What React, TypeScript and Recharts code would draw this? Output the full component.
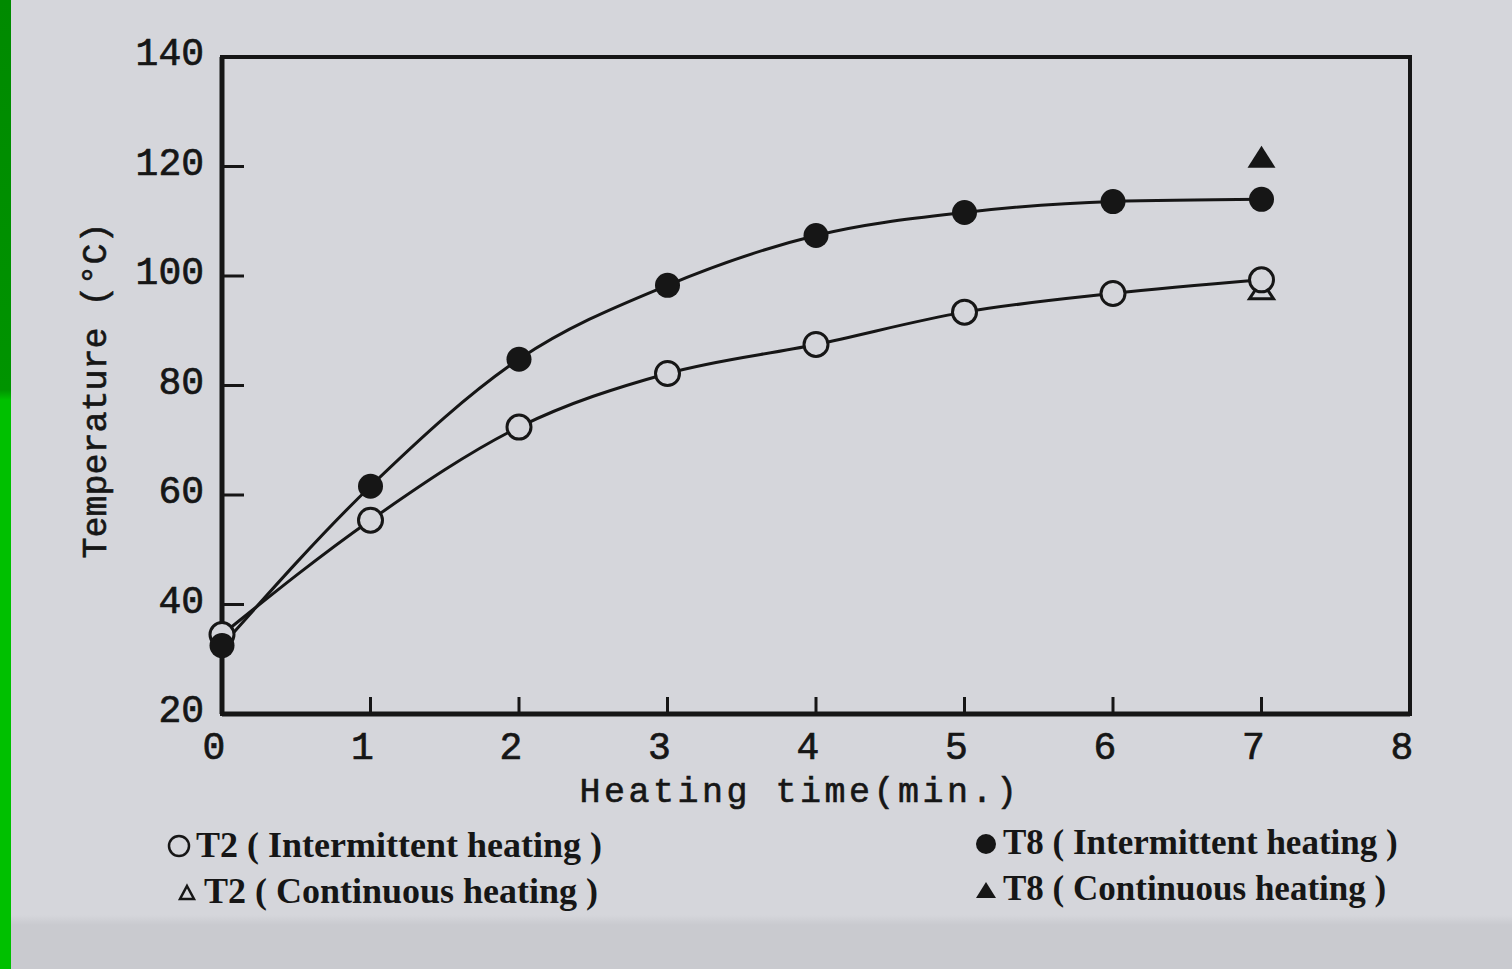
import {
  LineChart,
  Line,
  XAxis,
  YAxis,
  ReferenceArea,
  Legend,
  Label,
} from 'recharts'

// heating time (min.)
const times = [0, 1, 2, 3, 4, 5, 6, 7]
// temperatures (°C)
const t2Intermittent = [34.5, 55.4, 72.4, 82.2, 87.5, 93.4, 96.8, 99.3]
const t8Intermittent = [32.5, 61.6, 84.8, 98.3, 107.4, 111.6, 113.6, 114]
const t2Continuous = [null, null, null, null, null, null, null, 97.3]
const t8Continuous = [null, null, null, null, null, null, null, 121.6]

const xTicks = [0, 1, 2, 3, 4, 5, 6, 7, 8]
const yTicks = [20, 40, 60, 80, 100, 120, 140]

const legendItems = [
  { key: 't2i', symbol: 'circle', label: 'T2 ( Intermittent heating )' },
  { key: 't2c', symbol: 'triangle', label: 'T2 ( Continuous heating )' },
  { key: 't8i', symbol: 'dot', label: 'T8 ( Intermittent heating )' },
  { key: 't8c', symbol: 'solidTriangle', label: 'T8 ( Continuous heating )' },
]

const data = times.map((t, i) => ({
  time: t,
  t2i: t2Intermittent[i],
  t8i: t8Intermittent[i],
  t2c: t2Continuous[i],
  t8c: t8Continuous[i],
}))

const INK = '#161616'
const PAPER = '#d5d6db'
const MONO = '"Liberation Mono", "DejaVu Sans Mono", monospace'
const SERIF = '"Liberation Serif", "DejaVu Serif", serif'

const openDot = (props: any) => {
  const { cx, cy, index } = props
  if (cx == null || cy == null || props.value == null) return <g key={`o${index}`} />
  return <circle key={`o${index}`} cx={cx} cy={cy} r={12} fill={PAPER} stroke={INK} strokeWidth={3} />
}

const filledDot = (props: any) => {
  const { cx, cy, index } = props
  if (cx == null || cy == null || props.value == null) return <g key={`f${index}`} />
  return <circle key={`f${index}`} cx={cx} cy={cy} r={12.5} fill={INK} />
}

const openTriangle = (props: any) => {
  const { cx, cy, index } = props
  if (cx == null || cy == null || props.value == null) return <g key={`ot${index}`} />
  return (
    <path
      key={`ot${index}`}
      d={`M${cx},${cy - 10} L${cx + 12},${cy + 8} L${cx - 12},${cy + 8} Z`}
      fill={PAPER}
      stroke={INK}
      strokeWidth={3}
    />
  )
}

const filledTriangle = (props: any) => {
  const { cx, cy, index } = props
  if (cx == null || cy == null || props.value == null) return <g key={`ft${index}`} />
  return (
    <path
      key={`ft${index}`}
      d={`M${cx},${cy - 12} L${cx + 14},${cy + 10} L${cx - 14},${cy + 10} Z`}
      fill={INK}
    />
  )
}

const XTick = (props: any) => {
  const { x, y, payload } = props
  return (
    <g>
      <line x1={x} y1={y} x2={x} y2={y - 17} stroke={INK} strokeWidth={3} />
      <text
        x={x - 8}
        y={y + 45}
        textAnchor="middle"
        fontFamily={MONO}
        fontSize={38}
        fill={INK}
        stroke={INK}
        strokeWidth={0.7}
      >
        {payload.value}
      </text>
    </g>
  )
}

const YTick = (props: any) => {
  const { x, y, payload } = props
  return (
    <g>
      <line x1={x} y1={y} x2={x + 22} y2={y} stroke={INK} strokeWidth={3} />
      <text
        x={x - 18}
        y={y + 8}
        textAnchor="end"
        fontFamily={MONO}
        fontSize={38}
        fill={INK}
        stroke={INK}
        strokeWidth={0.7}
      >
        {payload.value}
      </text>
    </g>
  )
}

const XTitle = (props: any) => {
  const vb = props.viewBox
  return (
    <text
      x={vb.x + vb.width / 2 - 16}
      y={vb.y + 88}
      textAnchor="middle"
      fontFamily={MONO}
      fontSize={35}
      letterSpacing={3.5}
      fill={INK}
      stroke={INK}
      strokeWidth={0.6}
    >
      Heating time(min.)
    </text>
  )
}

const YTitle = (props: any) => {
  const vb = props.viewBox
  const cx = vb.x + 5
  const cy = vb.y + vb.height / 2 + 5
  return (
    <text
      x={cx}
      y={cy}
      transform={`rotate(-90 ${cx} ${cy})`}
      textAnchor="middle"
      dominantBaseline="central"
      fontFamily={MONO}
      fontSize={35}
      fill={INK}
      stroke={INK}
      strokeWidth={0.6}
    >
      Temperature (°C)
    </text>
  )
}

function LegendSymbol({ kind }: { kind: string }) {
  return (
    <svg width={26} height={26} style={{ marginRight: 4 }}>
      {kind === 'circle' && <circle cx={13} cy={14} r={10} fill="none" stroke={INK} strokeWidth={2.5} />}
      {kind === 'dot' && <circle cx={13} cy={14} r={10} fill={INK} />}
      {kind === 'triangle' && (
        <path d="M13,8 L20,21 L6,21 Z" fill="none" stroke={INK} strokeWidth={2.5} />
      )}
      {kind === 'solidTriangle' && <path d="M13,6 L23,22 L3,22 Z" fill={INK} />}
    </svg>
  )
}

const legendPos: Record<string, { left: number; top: number; size: number }> = {
  t2i: { left: 166, top: 0, size: 36 },
  t2c: { left: 174, top: 46, size: 36 },
  t8i: { left: 973, top: -2, size: 35 },
  t8c: { left: 973, top: 44, size: 35 },
}

const LegendContent = () => (
  <div style={{ position: 'relative', width: 1512, height: 100 }}>
    {legendItems.map((item) => (
      <div
        key={item.key}
        style={{
          position: 'absolute',
          left: legendPos[item.key].left,
          top: legendPos[item.key].top,
          display: 'flex',
          alignItems: 'center',
          fontFamily: SERIF,
          fontWeight: 700,
          fontSize: legendPos[item.key].size,
          color: INK,
          whiteSpace: 'pre',
          lineHeight: '40px',
        }}
      >
        <LegendSymbol kind={item.symbol} />
        <span>{item.label}</span>
      </div>
    ))}
  </div>
)

export default function App() {
  return (
    <div
      style={{
        position: 'fixed',
        left: 0,
        top: 0,
        width: 1512,
        height: 969,
        background: `linear-gradient(to bottom, ${PAPER} 0px, ${PAPER} 915px, #c9cacf 925px, #c9cacf 969px)`,
        overflow: 'hidden',
      }}
    >
      <div
        style={{
          position: 'absolute',
          left: 0,
          top: 0,
          width: 11,
          height: 969,
          background: 'linear-gradient(to bottom, #008a00 0px, #009400 390px, #00c000 400px, #00c000 969px)',
        }}
      />
      <LineChart
        width={1512}
        height={969}
        data={data}
        margin={{ top: 57, right: 102, left: 92, bottom: 65 }}
      >
        <XAxis
          dataKey="time"
          type="number"
          domain={[0, 8]}
          ticks={xTicks}
          tickSize={0}
          tickMargin={0}
          tickLine={false}
          tick={<XTick />}
          axisLine={{ stroke: INK, strokeWidth: 5 }}
          height={90}
        >
          <Label content={<XTitle />} />
        </XAxis>
        <YAxis
          type="number"
          domain={[20, 140]}
          ticks={yTicks}
          tickSize={0}
          tickMargin={0}
          tickLine={false}
          tick={<YTick />}
          axisLine={{ stroke: INK, strokeWidth: 5 }}
          width={130}
        >
          <Label content={<YTitle />} />
        </YAxis>
        <ReferenceArea x1={0} x2={8} y1={20} y2={140} fill="none" stroke={INK} strokeWidth={4} />
        <Legend
          content={<LegendContent />}
          wrapperStyle={{ position: 'absolute', left: 0, top: 825, width: 1512, height: 100 }}
        />
        <Line
          dataKey="t2c"
          stroke="none"
          dot={openTriangle}
          activeDot={false}
          isAnimationActive={false}
        />
        <Line
          type="monotone"
          dataKey="t2i"
          stroke={INK}
          strokeWidth={3}
          dot={openDot}
          activeDot={false}
          isAnimationActive={false}
        />
        <Line
          type="monotone"
          dataKey="t8i"
          stroke={INK}
          strokeWidth={3}
          dot={filledDot}
          activeDot={false}
          isAnimationActive={false}
        />
        <Line
          dataKey="t8c"
          stroke="none"
          dot={filledTriangle}
          activeDot={false}
          isAnimationActive={false}
        />
      </LineChart>
    </div>
  )
}
